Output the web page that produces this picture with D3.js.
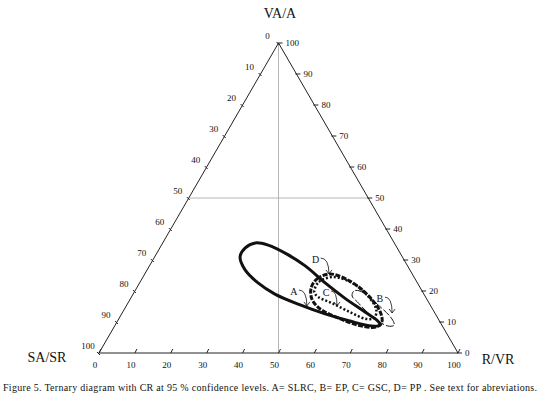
<!DOCTYPE html>
<html>
<head>
<meta charset="utf-8">
<script src="https://cdn.jsdelivr.net/npm/d3@7"></script>
<style>
  body { margin: 0; background: #fff; }
  svg text { font-family: "Liberation Serif", "Times New Roman", serif; fill: #111; }
</style>
</head>
<body>
<svg id="chart" width="540" height="397"></svg>
<script>
// ternary tick values (percent)
let tickValues = [0, 10, 20, 30, 40, 50, 60, 70, 80, 90, 100];

// confidence regions, points as [R/VR, VA/A] (SA/SR = rest)
let regionA = [[23.8,31.0],[23.8,33.9],[25.8,35.5],[29.7,34.8],[36.4,31.9],[43.4,28.1],[51.7,22.6],
  [59.6,17.7],[67.5,13.2],[72.5,10.3],[73.8,9.0],[71.6,8.7],[64.7,10.3],[56.7,12.6],[48.3,15.5],
  [39.5,19.0],[33.0,22.6],[27.3,26.8]];
let regionB = [[61.0,20.0],[62.7,20.0],[70.0,15.5],[76.1,11.0],[77.7,9.0],[76.1,8.7],[70.0,11.9],
  [63.7,16.5],[61.3,18.4]];
let regionC = [[50.1,19.7],[49.8,22.9],[52.9,24.5],[59.2,22.6],[65.7,18.4],[70.3,13.9],[71.0,11.3],
  [68.9,11.0],[63.3,13.2],[56.8,16.1],[52.0,18.1]];
let regionD = [[48.6,21.0],[48.8,23.9],[51.6,25.5],[58.3,23.2],[65.5,18.7],[71.5,13.5],[73.8,10.0],
  [73.0,8.4],[67.6,9.0],[61.0,11.3],[54.5,14.2],[50.6,17.4]];

// labels with arrows: [name, text position, arrow tip]
let labelNames = ["A", "B", "C", "D"];
let labelPos = [[44.3,20.0],[69.4,17.7],[53.4,19.7],[45.2,30.3]];
let arrowTips = [[50.3,15.2],[75.2,12.9],[58.7,15.2],[51.3,25.5]];

let caption = "Figure 5. Ternary diagram with CR at 95 % confidence levels. A= SLRC, B= EP, C= GSC, D= PP . See text for abreviations.";

let svg = d3.select("#chart");
let x = d3.scaleLinear().domain([0, 100]).range([99, 458]);
let y = d3.scaleLinear().domain([0, 100]).range([353, 43]);

function pt(r, va) {
  return [x(r + va / 2), y(va)];
}

// grid lines
let grid = svg.append("g").attr("stroke", "#b5b5b5").attr("stroke-width", 1);
grid.append("line")
  .attr("x1", pt(0, 100)[0]).attr("y1", pt(0, 100)[1])
  .attr("x2", pt(50, 0)[0]).attr("y2", pt(50, 0)[1]);
grid.append("line")
  .attr("x1", pt(0, 50)[0]).attr("y1", pt(0, 50)[1])
  .attr("x2", pt(50, 50)[0]).attr("y2", pt(50, 50)[1]);

// triangle
let corners = [pt(0, 0), pt(100, 0), pt(0, 100)];
svg.append("path")
  .attr("d", "M" + corners.join("L") + "Z")
  .attr("fill", "none")
  .attr("stroke", "#222")
  .attr("stroke-width", 1);

// bottom axis: R/VR
let axisG = svg.append("g").attr("font-size", 9);
tickValues.forEach(function(v) {
  let p = pt(v, 0);
  axisG.append("line").attr("x1", p[0]).attr("y1", p[1]).attr("x2", p[0] + 2).attr("y2", p[1] - 4)
    .attr("stroke", "#222");
  axisG.append("text").attr("x", p[0] - 4).attr("y", 368).attr("text-anchor", "middle").text(v);
});

// right axis: VA/A
tickValues.forEach(function(v) {
  let p = pt(100 - v, v);
  axisG.append("line").attr("x1", p[0] - 1).attr("y1", p[1]).attr("x2", p[0] + 4).attr("y2", p[1])
    .attr("stroke", "#222");
  axisG.append("text").attr("x", p[0] + 7).attr("y", p[1] + 3).text(v);
});

// left axis: SA/SR
tickValues.forEach(function(v) {
  let p = pt(0, 100 - v);
  axisG.append("line").attr("x1", p[0] - 2).attr("y1", p[1] - 1).attr("x2", p[0] + 1).attr("y2", p[1] + 2)
    .attr("stroke", "#222");
  axisG.append("text").attr("x", p[0] - 11).attr("y", p[1] - 4).attr("text-anchor", "middle").text(v);
});

// axis titles
svg.append("text").attr("x", 280).attr("y", 18).attr("text-anchor", "middle").attr("font-size", 14).text("VA/A");
svg.append("text").attr("x", 47).attr("y", 362).attr("text-anchor", "middle").attr("font-size", 14).text("SA/SR");
svg.append("text").attr("x", 498).attr("y", 364).attr("text-anchor", "middle").attr("font-size", 14).text("R/VR");

// confidence regions
let line = d3.line()
  .x(d => pt(d[0], d[1])[0])
  .y(d => pt(d[0], d[1])[1])
  .curve(d3.curveCatmullRomClosed.alpha(0.5));

let regions = [
  {data: regionA, width: 3, dash: null},
  {data: regionD, width: 3, dash: "5,1.5"},
  {data: regionC, width: 2.5, dash: "2,2"},
  {data: regionB, width: 1, dash: "8,2"}
];

svg.append("g").selectAll("path")
  .data(regions)
  .join("path")
  .attr("d", d => line(d.data))
  .attr("fill", "none")
  .attr("stroke", "#111")
  .attr("stroke-width", d => d.width)
  .attr("stroke-dasharray", d => d.dash);

// labels and arrows
let ann = svg.append("g");
labelNames.forEach(function(name, i) {
  let p = pt(labelPos[i][0], labelPos[i][1]);
  let t = pt(arrowTips[i][0], arrowTips[i][1]);
  ann.append("text").attr("x", p[0]).attr("y", p[1] + 4).attr("text-anchor", "middle")
    .attr("font-size", 10).text(name);
  let sx = p[0] + 5, sy = p[1] - 1;
  ann.append("path")
    .attr("d", "M" + sx + "," + sy + "Q" + t[0] + "," + sy + " " + t[0] + "," + t[1])
    .attr("fill", "none").attr("stroke", "#111").attr("stroke-width", 0.8);
  ann.append("path")
    .attr("d", "M" + (t[0] - 3) + "," + (t[1] - 4) + "L" + t[0] + "," + t[1] + "L" + (t[0] + 3) + "," + (t[1] - 4))
    .attr("fill", "none").attr("stroke", "#111").attr("stroke-width", 0.8);
});

// caption
svg.append("text")
  .attr("x", 3).attr("y", 391)
  .attr("font-size", 10)
  .attr("textLength", 534)
  .attr("lengthAdjust", "spacing")
  .text(caption);
</script>
</body>
</html>
